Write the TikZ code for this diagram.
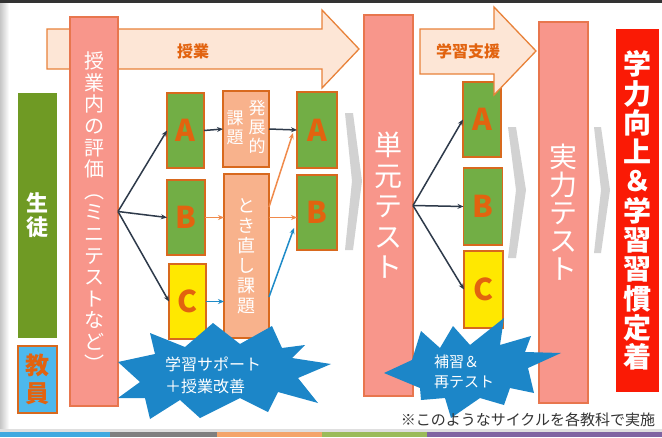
\documentclass[tikz,border=0pt]{standalone}
\usepackage{fontspec}
\setmainfont{Noto Sans CJK JP}
\usetikzlibrary{arrows.meta}
\definecolor{pinkbox}{HTML}{F8968B}
\definecolor{pinkedge}{HTML}{E8764E}
\definecolor{grn}{HTML}{72AE45}
\definecolor{edge}{HTML}{D8691E}
\definecolor{ltr}{HTML}{E2630F}
\definecolor{yel}{HTML}{FFE800}
\definecolor{peach}{HTML}{F8B28C}
\definecolor{arrfill}{HTML}{FDE6D6}
\definecolor{arredge}{HTML}{E8823A}
\definecolor{darkarr}{HTML}{2E3A4A}
\definecolor{orgarr}{HTML}{F08A4B}
\definecolor{bluarr}{HTML}{1E8BC8}
\definecolor{burst}{HTML}{1C86C8}
\definecolor{redbox}{HTML}{FA1A05}
\definecolor{stgreen}{HTML}{6F9A24}
\definecolor{tblue}{HTML}{4DB8EC}
\definecolor{notegray}{HTML}{333333}
\definecolor{stripblue}{HTML}{3FA9E0}
\definecolor{stripgray}{HTML}{7F7F7F}
\definecolor{striporange}{HTML}{F4A46A}
\definecolor{stripgreen}{HTML}{9BBB59}
\definecolor{strippurple}{HTML}{8064A2}
\begin{document}
\begin{tikzpicture}[x=1pt,y=-1pt,
  every node/.style={inner sep=0pt, outer sep=0pt},
  tallbox/.style={draw=pinkedge, fill=pinkbox, line width=1.2pt, text=white, align=center},
  grnbox/.style={draw=edge, fill=grn, line width=1.2pt, text=ltr, font=\bfseries\fontsize{30}{30}\selectfont},
  yelbox/.style={grnbox, fill=yel},
  taskbox/.style={draw=edge, fill=peach, line width=1.2pt, text=white, align=center},
  bigarrow/.style={draw=arredge, fill=arrfill, line width=1.3pt},
  arrlabel/.style={text=ltr, font=\bfseries\fontsize{16}{16}\selectfont},
  conn/.style={line width=1.5pt, -{Stealth[length=6pt,width=5pt]}},
  chev/.style={fill=gray!35},
  burstshape/.style={fill=burst},
  bursttext/.style={text=white, align=left, font=\fontsize{16}{22}\selectfont}
]
\useasboundingbox (0,0) rectangle (662,437);
% frame of the screenshot
\fill[white] (0,0) rectangle (662,437);
\fill[black!80] (0,0) rectangle (662,3);
\shade[left color=gray!45, right color=white] (0,3) rectangle (9,430);
\fill[gray!25] (0,429) rectangle (662,432);
\fill[stripblue] (0,432) rectangle (110,437);
\fill[stripgray] (110,432) rectangle (217,437);
\fill[striporange] (217,432) rectangle (322,437);
\fill[stripgreen] (322,432) rectangle (427,437);
\fill[strippurple] (427,432) rectangle (662,437);

% big arrow 授業
\draw[bigarrow] (47,29) -- (322,29) -- (322,10) -- (359,49) -- (322,88) -- (322,69) -- (47,69) -- cycle;
\node[arrlabel] (jugyo) at (193,51) {授業};

% left column
\node[tallbox, minimum width=48pt, minimum height=389pt, font=\fontsize{20}{21.6}\selectfont] (eval) at (94,211.5)
  {授\\業\\内\\の\\評\\価\\︵\\ミ\\ニ\\テ\\ス\\ト\\な\\ど\\︶};
\node[fill=stgreen, minimum width=39pt, minimum height=245pt, text=white, align=center,
  font=\bfseries\fontsize{22}{24}\selectfont] (student) at (37.5,215.5) {生\\徒};
\node[draw=edge, fill=tblue, line width=1.2pt, minimum width=39pt, minimum height=67pt, text=ltr, align=center,
  font=\bfseries\fontsize{24}{28}\selectfont] (teacher) at (37.5,379.5) {教\\員};

% gray chevrons
\fill[chev] (345,113) -- (353,113) -- (362,181) -- (353,250) -- (345,250) -- (352,181) -- cycle;
\fill[chev] (508,127) -- (516,127) -- (526,190) -- (516,258) -- (508,258) -- (516,190) -- cycle;
\fill[chev] (594,127) -- (601,127) -- (610,190) -- (601,253) -- (594,253) -- (601,190) -- cycle;

% first ABC
\node[grnbox, minimum width=37pt, minimum height=75pt] (a1) at (185.5,130.5) {A};
\node[grnbox, minimum width=38pt, minimum height=75pt] (b1) at (186,217.5) {B};
\node[yelbox, minimum width=37pt, minimum height=75pt] (c1) at (187.5,301.5) {C};

% tasks
\node[taskbox, minimum width=46pt, minimum height=76pt] (dev) at (246,129) {};
\node[text=white, align=center, font=\fontsize{17}{19}\selectfont] (devR) at (257,127) {発\\展\\的};
\node[text=white, align=center, font=\fontsize{17}{19}\selectfont] (devL) at (235,128) {課\\題};
\node[taskbox, minimum width=45pt, minimum height=164pt, font=\fontsize{18}{20}\selectfont] (retry) at (246.5,256)
  {と\\き\\直\\し\\課\\題};

% right A B
\node[grnbox, minimum width=40pt, minimum height=76pt] (a2) at (317,130) {A};
\node[grnbox, minimum width=40pt, minimum height=75pt] (b2) at (317,212.5) {B};

% tall boxes
\node[tallbox, minimum width=49pt, minimum height=381pt, font=\fontsize{28}{30.5}\selectfont] (unit) at (388.5,205.5)
  {単\\元\\テ\\ス\\ト};
\node[tallbox, minimum width=49pt, minimum height=381pt, font=\fontsize{28}{28}\selectfont] (real) at (563.5,212.5)
  {実\\力\\テ\\ス\\ト};
\node[fill=redbox, minimum width=43pt, minimum height=363pt, text=white, align=center,
  font=\bfseries\fontsize{28}{29.3}\selectfont] (goal) at (637.5,210.5)
  {学\\力\\向\\上\\＆\\学\\習\\習\\慣\\定\\着};

% second ABC
\node[grnbox, minimum width=38pt, minimum height=75pt] (a3) at (482,119.5) {A};
\node[grnbox, minimum width=39pt, minimum height=77pt] (b3) at (483,206.5) {B};
\node[yelbox, minimum width=39pt, minimum height=77pt] (c3) at (483.5,289.5) {C};

% arrow 学習支援
\draw[bigarrow] (420,29) -- (494,29) -- (494,7) -- (536,51) -- (494,95) -- (494,74) -- (420,74) -- cycle;
\node[arrlabel] (support) at (468,51) {学習支援};

% connectors
\draw[conn, darkarr] (eval.east) -- (a1.west);
\draw[conn, darkarr] (eval.east) -- (b1.west);
\draw[conn, darkarr] (eval.east) -- (c1.west);
\draw[conn, darkarr] (a1.east) -- (dev.west);
\draw[conn, darkarr] (dev.east) -- (a2.west);
\draw[conn, orgarr] (b1.east) -- (retry.west |- b1.east);
\draw[conn, orgarr] (retry.east |- 0,207) -- ([xshift=-4pt,yshift=-3pt]a2.west);
\draw[conn, orgarr] (retry.east |- b1.east) -- (b2.west |- b1.east);
\draw[conn, bluarr] (c1.east) -- (retry.west |- c1.east);
\draw[conn, bluarr] (retry.east |- 0,297) -- ([xshift=-3pt,yshift=22pt]b2.south west);
\draw[conn, darkarr] (unit.east) -- (a3.west);
\draw[conn, darkarr] (unit.east) -- (b3.west);
\draw[conn, darkarr] (unit.east) -- (c3.west);

% bursts
\fill[burstshape] (118,362) -- (155,354) -- (150,333) -- (185,347) -- (213,323) -- (240,344) -- (272,326)
  -- (282,348) -- (305,345) -- (292,358) -- (331,364) -- (298,378) -- (318,403) -- (278,392) -- (268,412)
  -- (240,398) -- (200,418) -- (180,400) -- (150,419) -- (145,398) -- (118,398) -- (140,382) -- cycle;
\node[bursttext, anchor=west] (burst1) at (165,375) {学習サポート\\＋授業改善};
\fill[burstshape] (384,373) -- (412,360) -- (421,331) -- (440,348) -- (453,326) -- (470,345) -- (504,318)
  -- (500,345) -- (531,336) -- (525,352) -- (561,353) -- (528,368) -- (534,393) -- (510,388) -- (504,405)
  -- (480,398) -- (451,418) -- (445,398) -- (421,400) -- (420,388) -- cycle;
\node[bursttext, anchor=west, font=\fontsize{15}{20}\selectfont] (burst2) at (434,372) {補習＆\\再テスト};

% note
\node[anchor=east, text=notegray, font=\fontsize{15}{15}\selectfont] (note) at (655,420) {※このようなサイクルを各教科で実施};
\end{tikzpicture}
\end{document}
